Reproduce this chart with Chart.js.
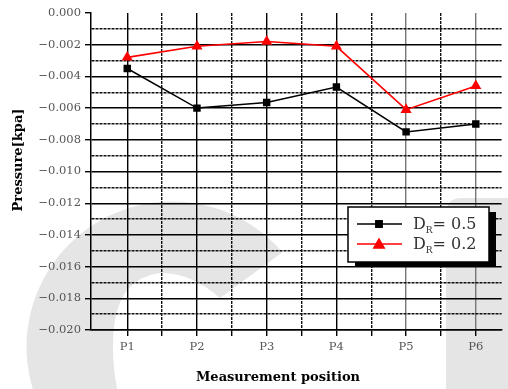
<!DOCTYPE html>
<html>
<head>
<meta charset="utf-8">
<script src="https://cdn.jsdelivr.net/npm/chart.js@4"></script>
<style>
  html, body { margin: 0; padding: 0; background: #fff; overflow: hidden; }
  #wrap { width: 508px; height: 389px; position: relative; }
</style>
</head>
<body>
<div id="wrap"><canvas id="pressure-chart"></canvas></div>
<script>
// measurement positions and pressure values [kpa]
const positions = ['P1', 'P2', 'P3', 'P4', 'P5', 'P6'];
const drValues = ['0.5', '0.2'];
const pressureDR05 = [-0.0035, -0.0060, -0.00565, -0.00467, -0.0075, -0.0070];
const pressureDR02 = [-0.0028, -0.0021, -0.0018, -0.0021, -0.0061, -0.0046];
const seriesColors = ['#000000', '#ff0000'];
const seriesMarkers = ['rect', 'triangle'];

const yMin = -0.020, yMax = 0.000;
const xTitle = 'Measurement position';
const yTitle = 'Pressure[kpa]';

const serif = 'DejaVu Serif';

const toPoints = vals => vals.map((v, i) => ({ x: i + 1, y: v }));
const deg = d => d * Math.PI / 180;

// light gray logo behind the plot
const watermark = {
    id: 'watermark',
    beforeDraw(chart) {
        const ctx = chart.ctx;
        ctx.save();
        ctx.fillStyle = '#e5e5e5';
        ctx.beginPath();
        ctx.moveTo(32.7, 389);
        ctx.arc(172, 347, 145.5, deg(163.2), deg(319.4), false);
        ctx.lineTo(220, 298);
        ctx.quadraticCurveTo(190, 272, 160, 273);
        ctx.quadraticCurveTo(122, 278, 115, 320);
        ctx.quadraticCurveTo(110, 350, 117, 389);
        ctx.closePath();
        ctx.fill();
        ctx.beginPath();
        ctx.moveTo(446, 389);
        ctx.lineTo(446, 214);
        ctx.quadraticCurveTo(446, 198, 462, 198);
        ctx.lineTo(508, 198);
        ctx.lineTo(508, 389);
        ctx.closePath();
        ctx.fill();
        ctx.restore();
    }
};

// axis titles and the boxed legend with subscript
const decorations = {
    id: 'decorations',
    afterDraw(chart) {
        const ctx = chart.ctx;
        ctx.save();
        ctx.fillStyle = '#000';
        ctx.font = 'bold 13px "' + serif + '"';
        ctx.textAlign = 'center';
        ctx.textBaseline = 'alphabetic';
        ctx.fillText(xTitle, 278, 381);
        ctx.translate(22, 160);
        ctx.rotate(-Math.PI / 2);
        ctx.fillText(yTitle, 0, 0);
        ctx.restore();

        const lx = 348, ly = 207, lw = 141, lh = 55;
        ctx.save();
        ctx.fillStyle = '#000';
        ctx.fillRect(lx + 7, ly + 5, lw, lh);
        ctx.fillStyle = '#fff';
        ctx.fillRect(lx, ly, lw, lh);
        ctx.strokeStyle = '#000';
        ctx.lineWidth = 1.5;
        ctx.strokeRect(lx, ly, lw, lh);

        chart.data.datasets.forEach((ds, i) => {
            const y = 224 + i * 20;
            ctx.strokeStyle = ds.borderColor;
            ctx.lineWidth = 1.5;
            ctx.beginPath();
            ctx.moveTo(357, y);
            ctx.lineTo(402, y);
            ctx.stroke();
            ctx.fillStyle = ds.pointBackgroundColor;
            ctx.strokeStyle = ds.pointBorderColor;
            Chart.helpers.drawPoint(ctx, {
                pointStyle: ds.pointStyle,
                radius: ds.pointStyle === 'triangle' ? 6 : 4.5,
                borderWidth: 1,
                rotation: 0
            }, 379, y + (ds.pointStyle === 'triangle' ? 1 : 0));

            ctx.fillStyle = '#333';
            ctx.textAlign = 'left';
            ctx.textBaseline = 'alphabetic';
            let tx = 413;
            const base = y + 5;
            ctx.font = '16px "' + serif + '"';
            ctx.fillText('D', tx, base);
            tx += ctx.measureText('D').width;
            ctx.font = '9px "' + serif + '"';
            ctx.fillText('R', tx, base + 4);
            tx += ctx.measureText('R').width;
            ctx.font = '16px "' + serif + '"';
            ctx.fillText('= ' + drValues[i], tx, base);
        });
        ctx.restore();
    }
};

const xTicks = [];
for (let i = 1; i <= positions.length; i++) {
    xTicks.push(i);
    if (i < positions.length) xTicks.push(i + 0.5);
}
const yTicks = [];
for (let k = Math.round(yMin * 1000); k <= Math.round(yMax * 1000); k++) yTicks.push(k / 1000);

const isMinorY = v => Math.abs(Math.round(v * 1000)) % 2 === 1;
const isHalfX = v => Math.abs(v - Math.round(v)) > 0.1;

new Chart(document.getElementById('pressure-chart'), {
    type: 'line',
    data: {
        datasets: [{
            label: 'DR= ' + drValues[0],
            data: toPoints(pressureDR05),
            borderColor: seriesColors[0],
            pointBackgroundColor: seriesColors[0],
            pointBorderColor: seriesColors[0],
            pointStyle: seriesMarkers[0],
            pointRadius: 4.2,
            borderWidth: 1.5,
            tension: 0
        }, {
            label: 'DR= ' + drValues[1],
            data: toPoints(pressureDR02),
            borderColor: seriesColors[1],
            pointBackgroundColor: seriesColors[1],
            pointBorderColor: seriesColors[1],
            pointStyle: seriesMarkers[1],
            pointRadius: 4.8,
            borderWidth: 1.6,
            tension: 0
        }]
    },
    options: {
        responsive: true,
        maintainAspectRatio: false,
        animation: false,
        layout: { padding: { top: 13, right: 0, bottom: 0, left: 0 } },
        plugins: {
            legend: { display: false },
            tooltip: { enabled: false }
        },
        scales: {
            x: {
                type: 'linear',
                min: 0.48,
                max: 6.37,
                afterBuildTicks: scale => { scale.ticks = xTicks.map(v => ({ value: v })); },
                afterFit: scale => { scale.height = 59; },
                ticks: {
                    autoSkip: false,
                    maxRotation: 0,
                    padding: 4,
                    color: '#555',
                    font: { family: serif, size: 11.5 },
                    callback: v => isHalfX(v) ? '' : positions[Math.round(v) - 1]
                },
                grid: {
                    color: c => {
                        if (!c.tick) return '#000';
                        if (isHalfX(c.tick.value)) return '#111';
                        return c.tick.value >= 5 ? '#777' : '#000';
                    },
                    lineWidth: 1.4,
                    tickColor: '#000',
                    tickLength: 6,
                    tickWidth: 1.4
                },
                border: {
                    display: true,
                    color: '#000',
                    width: 1.5,
                    dash: c => c.tick && isHalfX(c.tick.value) ? [3, 1] : []
                }
            },
            y: {
                type: 'linear',
                min: yMin,
                max: yMax,
                afterBuildTicks: scale => { scale.ticks = yTicks.map(v => ({ value: v })); },
                afterFit: scale => { scale.width = 91; },
                ticks: {
                    autoSkip: false,
                    padding: 4,
                    color: '#555',
                    font: { family: serif, size: 11.5 },
                    callback: v => isMinorY(v) ? '' : v.toFixed(3).replace('-', '\u2212')
                },
                grid: {
                    color: c => {
                        if (!c.tick) return '#000';
                        if (Math.abs(c.tick.value) < 1e-9) return 'rgba(0,0,0,0)';
                        return isMinorY(c.tick.value) ? '#111' : '#000';
                    },
                    lineWidth: 1.4,
                    tickColor: c => c.tick && isMinorY(c.tick.value) ? 'rgba(0,0,0,0)' : '#000',
                    tickLength: 6,
                    tickWidth: 1.4
                },
                border: {
                    display: true,
                    color: '#000',
                    width: 1.5,
                    dash: c => c.tick && isMinorY(c.tick.value) ? [3, 1] : []
                }
            }
        }
    },
    plugins: [watermark, decorations]
});
</script>
</body>
</html>
